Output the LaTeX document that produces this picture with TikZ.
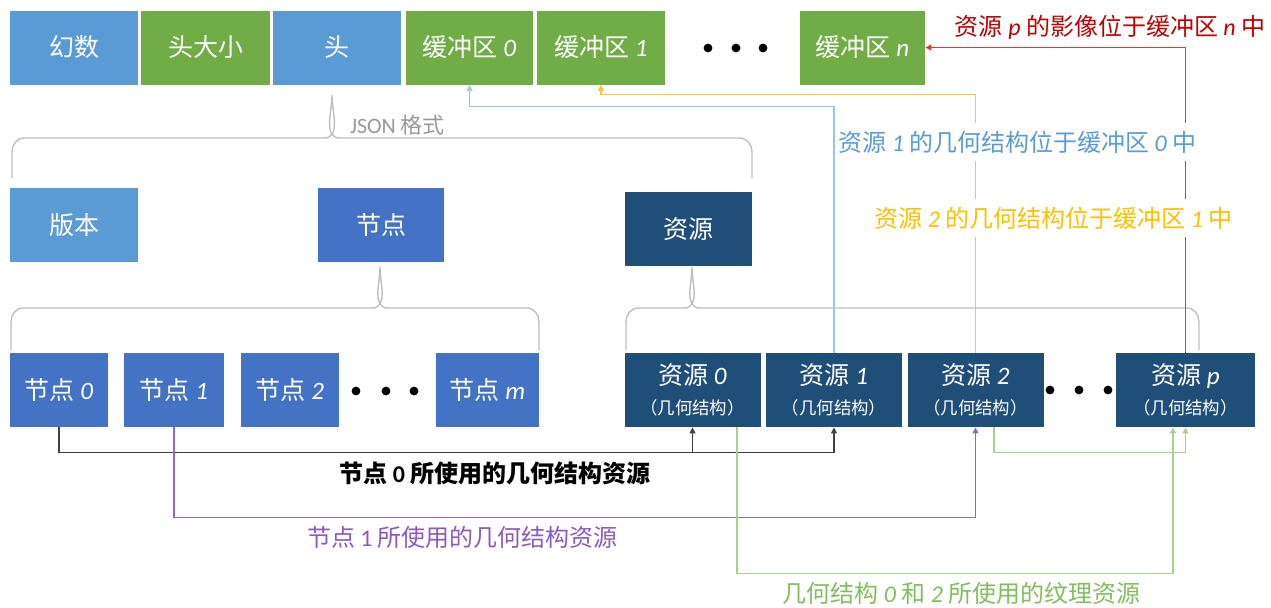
\documentclass[tikz,border=0pt]{standalone}
\usepackage{fontspec}
\setmainfont{Noto Sans CJK SC}
\newfontfamily\latinfont{Carlito}
\usetikzlibrary{arrows.meta,calc}
\newcommand\ivar[1]{{\latinfont\itshape #1}}
\definecolor{boxlight}{RGB}{91,155,213}
\definecolor{boxgreen}{RGB}{112,173,71}
\definecolor{boxblue}{RGB}{68,114,196}
\definecolor{boxdark}{RGB}{31,78,121}
\definecolor{linkblue}{RGB}{157,195,230}
\definecolor{linkyellow}{RGB}{255,200,40}
\definecolor{linkred}{RGB}{215,60,60}
\definecolor{linkpurple}{RGB}{150,100,200}
\definecolor{linkgreen}{RGB}{169,209,142}
\definecolor{notered}{RGB}{192,0,0}
\definecolor{noteyellow}{RGB}{255,192,0}
\definecolor{notepurple}{RGB}{140,90,190}
\definecolor{notegreen}{RGB}{130,190,95}
\tikzset{
  gltf box/.style={fill=#1,text=white,inner sep=0pt,minimum height=37pt,
    font=\fontsize{12.5}{15}\selectfont},
  gltf res/.style={gltf box=boxdark,align=center,minimum width=68pt},
  gltf link/.style={-{Triangle[length=3pt,width=3pt]},line width=0.7pt,draw=#1},
  gltf brace/.style={draw=black!25,line width=0.7pt},
  gltf note/.style={fill=white,text=#1,inner xsep=1pt,inner ysep=4pt,
    font=\fontsize{12}{14}\selectfont},
  gltf dot/.style={fill=black}
}
\begin{document}
\begin{tikzpicture}[x=0.5pt,y=-0.5pt]
  \useasboundingbox (0,0) rectangle (1271,607);
  % binary layout
  \node[gltf box=boxlight,minimum width=64pt] (magic) at (74,47.5) {幻数};
  \node[gltf box=boxgreen,minimum width=64.5pt] (hsize) at (205.5,47.5) {头大小};
  \node[gltf box=boxlight,minimum width=64pt] (header) at (337,47.5) {头};
  \node[gltf box=boxgreen,minimum width=63.5pt] (buf0) at (469.5,47.5) {缓冲区 \ivar{0}};
  \node[gltf box=boxgreen,minimum width=64pt] (buf1) at (601,47.5) {缓冲区 \ivar{1}};
  \node[gltf box=boxgreen,minimum width=62.5pt] (bufn) at (862.5,47.5) {缓冲区 \ivar{n}};
  \foreach \x in {708,736,763}
    \fill[gltf dot] (\x,48) circle (2.2pt);
  % json part
  \draw[gltf brace] (12,178) -- (12,152) to[out=90,in=180] (24,138) -- (324,138)
    to[out=0,in=-90] (332,95) to[out=-90,in=180] (340,138) -- (740,138)
    to[out=0,in=90] (752,152) -- (752,178);
  \node[text=black!40,font=\fontsize{11}{13}\selectfont,anchor=west] (json) at (343,125) {{\latinfont JSON} 格式};
  \node[gltf box=boxlight,minimum width=64pt] (version) at (74,225) {版本};
  \node[gltf box=boxblue,minimum width=63pt] (nodes) at (381,224.5) {节点};
  \node[gltf box=boxdark,minimum width=63.5pt] (res) at (688.5,229) {资源};
  \draw[gltf brace] (11,350) -- (11,322) to[out=90,in=180] (23,308) -- (372,308)
    to[out=0,in=-90] (380,267) to[out=-90,in=180] (388,308) -- (527,308)
    to[out=0,in=90] (539,322) -- (539,350);
  \draw[gltf brace] (626,350) -- (626,322) to[out=90,in=180] (638,308) -- (684,308)
    to[out=0,in=-90] (692,267) to[out=-90,in=180] (700,308) -- (1187,308)
    to[out=0,in=90] (1199,322) -- (1199,350);
  % node list
  \node[gltf box=boxblue,minimum width=49pt] (node0) at (59,390) {节点 \ivar{0}};
  \node[gltf box=boxblue,minimum width=50pt] (node1) at (174,390) {节点 \ivar{1}};
  \node[gltf box=boxblue,minimum width=49pt] (node2) at (290,390) {节点 \ivar{2}};
  \node[gltf box=boxblue,minimum width=51.5pt] (nodem) at (487.5,390) {节点 \ivar{m}};
  \foreach \x in {356,386,414}
    \fill[gltf dot] (\x,391) circle (2.2pt);
  % resource list
  \node[gltf res] (res0) at (692.5,390) {资源 \ivar{0}\\[0pt]{\fontsize{8.7}{10}\selectfont （几何结构）}};
  \node[gltf res] (res1) at (834,390) {资源 \ivar{1}\\[0pt]{\fontsize{8.7}{10}\selectfont （几何结构）}};
  \node[gltf res] (res2) at (975.5,390) {资源 \ivar{2}\\[0pt]{\fontsize{8.7}{10}\selectfont （几何结构）}};
  \node[gltf res,minimum width=69.5pt] (resp) at (1185.5,390) {资源 \ivar{p}\\[0pt]{\fontsize{8.7}{10}\selectfont （几何结构）}};
  \foreach \x in {1050,1079,1108}
    \fill[gltf dot] (\x,390) circle (2.2pt);
  % links up to the buffers
  \draw[gltf link=linkblue] (res1.north) -- ++(0,-246) -| (buf0.south);
  \draw[gltf link=linkyellow] (res2.north) -- ++(0,-258) -| (buf1.south);
  \draw[gltf link=linkred] (resp.north) |- (bufn.east);
  % links between nodes and resources
  \draw[gltf link=black!75] (node0.south) -- ++(0,25) -| (res0.south);
  \draw[gltf link=black!75] (res0.south) ++(0,25) -| (res1.south);
  \draw[gltf link=linkpurple] (node1.south) -- ++(0,90) -| (res2.south);
  \coordinate (g0) at ($(res0.south)+(44.5,0)$);
  \coordinate (g2) at ($(res2.south)+(18.5,0)$);
  \coordinate (gp) at ($(resp.south)+(-12.5,0)$);
  \draw[gltf link=linkgreen] (g0) -- ++(0,146) -| (gp);
  \draw[gltf link=linkgreen] (g2) -- ++(0,25) -| (resp.south);
  % notes
  \node[gltf note=notered] (notered) at (1110,27) {资源 \ivar{p} 的影像位于缓冲区 \ivar{n} 中};
  \node[gltf note=boxlight,anchor=west] (noteblue) at (836,142) {资源 \ivar{1} 的几何结构位于缓冲区 \ivar{0} 中};
  \node[gltf note=noteyellow] (noteyellow) at (1053.5,218) {资源 \ivar{2} 的几何结构位于缓冲区 \ivar{1} 中};
  \node[gltf note=black,font=\fontsize{12}{14}\selectfont\bfseries] (noteblack) at (495,473) {节点 {\latinfont 0} 所使用的几何结构资源};
  \node[gltf note=notepurple] (notepurple) at (462.5,537) {节点 {\latinfont 1} 所使用的几何结构资源};
  \node[gltf note=notegreen,inner ysep=1pt] (notegreen) at (961.5,593) {几何结构 \ivar{0} 和 \ivar{2} 所使用的纹理资源};
\end{tikzpicture}
\end{document}
